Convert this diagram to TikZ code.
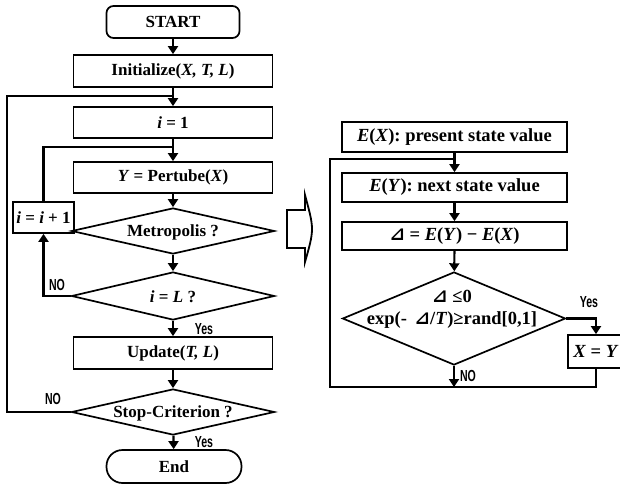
\documentclass[tikz,border=0pt]{standalone}
\usepackage{fontspec}
\setmainfont{Liberation Serif}
\newfontfamily\labfont{Liberation Sans}
\newfontfamily\symfont{DejaVu Sans}
\usetikzlibrary{arrows.meta,shapes.geometric}
\newcommand{\tri}{{\symfont\bfseries ⊿}}
\newcommand{\yn}[1]{\scalebox{0.66}[1]{\labfont\bfseries #1}}
\begin{document}
\begin{tikzpicture}[x=1pt,y=-1pt,
  box/.style={draw,line width=1.7pt,inner sep=0pt,minimum width=199pt,minimum height=31pt,
    font=\fontsize{17}{20}\selectfont\bfseries},
  rbox/.style={box,minimum width=225pt,font=\fontsize{18.5}{22}\selectfont\bfseries},
  term/.style={box,minimum width=133pt,minimum height=32pt,rounded corners=7pt},
  dia/.style={draw,shape=diamond,line width=1.7pt,inner sep=0pt,minimum width=203pt,minimum height=46pt},
  txt/.style={inner sep=0pt,font=\fontsize{17}{20}\selectfont\bfseries},
  rtxt/.style={inner sep=0pt,align=center,font=\fontsize{18.5}{22}\selectfont\bfseries},
  lbl/.style={inner sep=0pt,font=\fontsize{16}{18}\selectfont},
  line/.style={line width=2.2pt},
  conn/.style={line width=2.2pt,-{Triangle[length=8pt,width=10pt]}}]
\useasboundingbox (0,0) rectangle (620,486);
% left column
\node[term] (start) at (173,22) {START};
\node[box,minimum height=32pt] (init) at (173,71) {Initialize(\textit{X, T, L})};
\node[box] (i1) at (173,122.5) {\textit{i} = 1};
\node[box] (pert) at (173,177.5) {\textit{Y} = Pertube(\textit{X})};
\node[box,minimum width=61pt] (inc) at (43.5,217.5) {\textit{i} = \textit{i} + 1};
\node[dia] (metro) at (173,231) {};
\node[txt] (metroT) at (173,232) {Metropolis ?};
\node[dia,minimum height=48pt] (iL) at (173,296) {};
\node[txt] (iLT) at (173,297) {\textit{i} = \textit{L} ?};
\node[box,minimum height=32pt] (upd) at (173,353) {Update(\textit{T, L})};
\node[dia] (stop) at (173,412) {};
\node[txt] (stopT) at (173,413) {Stop-Criterion ?};
\node[term,minimum width=135pt,minimum height=33pt,rounded corners=16pt] (end) at (174,466.5) {End};
\coordinate (j1) at (173,96);
\coordinate (j2) at (173,147);
\coordinate (outer) at (7,96);
\draw[conn] (start) -- (init);
\draw[conn] (init) -- (i1);
\draw[line] (stop.west) -| (outer) -- (j1);
\draw[conn] (i1) -- (pert);
\draw[line] (inc.north) |- (j2);
\draw[conn] (pert) -- (metro);
\draw[conn] (metro) -- (iL);
\draw[conn] (iL.west) -| (inc.south);
\draw[conn] (iL) -- (upd);
\draw[conn] (upd) -- (stop);
\draw[conn] (stop) -- (end);
\node[lbl] (no1) at (57,285) {\yn{NO}};
\node[lbl] (yes1) at (204,329) {\yn{Yes}};
\node[lbl] (no2) at (53,399) {\yn{NO}};
\node[lbl] (yes2) at (204,442) {\yn{Yes}};
% block arrow
\draw[line width=1.8pt,fill=white] (287,210) -- (305,210) -- (305,195)
  .. controls (309,210) and (312,220) .. (312,229)
  .. controls (312,238) and (309,248) .. (305,262)
  -- (305,248) -- (287,248) -- cycle;
% right column
\node[rbox,minimum height=30pt] (ex) at (454.5,137) {\textit{E}(\textit{X}): present state value};
\node[rbox,minimum height=29pt] (ey) at (454.5,187.5) {\textit{E}(\textit{Y}): next state value};
\node[rbox,minimum height=28pt] (dl) at (454.5,236) {\tri{} = \textit{E}(\textit{Y}) − \textit{E}(\textit{X})};
\node[dia,minimum width=223pt,minimum height=93pt] (rd) at (454,318.5) {};
\node[rtxt] (rdT) at (452,309) {\tri{} ≤0\\exp(- \,\tri/\textit{T})≥rand[0,1]};
\node[rbox,minimum width=56pt,minimum height=33pt] (xy) at (596,351.5) {\textit{X} = \textit{Y}\hspace{6pt}};
\coordinate (jr) at (454.5,159);
\coordinate (rl) at (330,387);
\coordinate (rbot) at (454,387);
\draw[conn] (ex) -- (ey);
\draw[conn] (ey) -- (dl);
\draw[conn] (dl) -- (rd);
\draw[conn] (rd.east) -| (xy.north);
\draw[conn] (rd) -- (rbot);
\draw[line] (xy.south) |- (rl) |- (jr);
\node[lbl] (yes3) at (589,302) {\yn{Yes}};
\node[lbl] (no3) at (468,376) {\yn{NO}};
\end{tikzpicture}
\end{document}
